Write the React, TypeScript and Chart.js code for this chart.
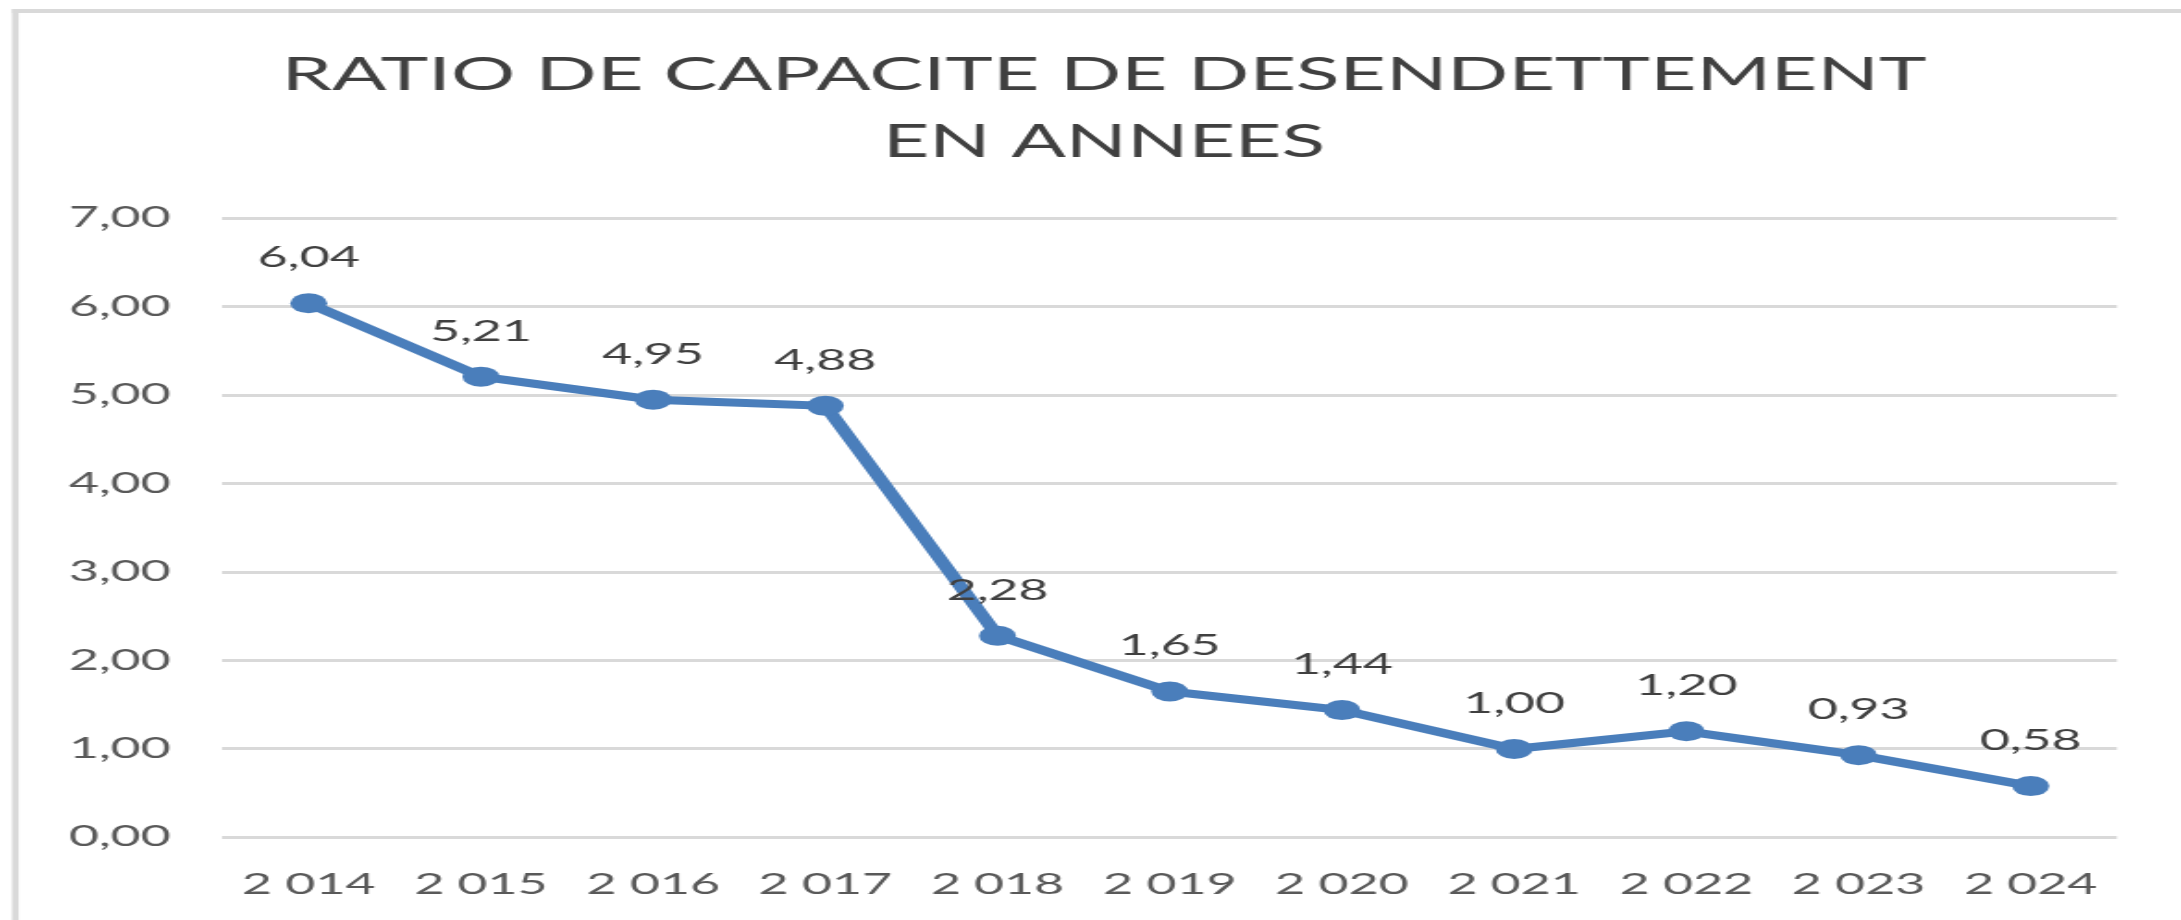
import React, { useEffect, useRef } from 'react';
import { Chart, registerables } from 'chart.js';

Chart.register(...registerables);

// ---- data ----
const years: number[] = [2014, 2015, 2016, 2017, 2018, 2019, 2020, 2021, 2022, 2023, 2024];
const ratios: number[] = [6.04, 5.21, 4.95, 4.88, 2.28, 1.65, 1.44, 1.0, 1.2, 0.93, 0.58];
const yMin = 0;
const yMax = 7;
const yStep = 1;
const titleLines: string[] = ['RATIO DE CAPACITE DE DESENDETTEMENT', 'EN ANNEES'];

// ---- layout constants ----
const FULL_W = 2181;
const FULL_H = 920;
const SX = 1.85; // horizontal stretch of the original picture
const W = Math.round(FULL_W / SX);
const H = FULL_H;
const FONT = 'Lato, "Open Sans", sans-serif';
const TITLE_SQUEEZE = 0.925;

const fmtNum = (v: number) => v.toFixed(2).replace('.', ',');
const fmtYear = (y: number) => {
  const s = String(y);
  return s.slice(0, 1) + ' ' + s.slice(1);
};

const framePlugin = {
  id: 'frameAndTitle',
  beforeDraw(chart: any) {
    const ctx = chart.ctx;
    ctx.save();
    ctx.fillStyle = '#ffffff';
    ctx.fillRect(0, 0, chart.width, chart.height);
    ctx.fillStyle = '#d9d9d9';
    ctx.fillRect(6.5, 9, 3.6, chart.height - 9);
    ctx.fillRect(6.5, 9, chart.width, 4);
    ctx.restore();

    ctx.save();
    const cx = 1104 / SX;
    ctx.translate(cx, 0);
    ctx.scale(TITLE_SQUEEZE, 1);
    ctx.fillStyle = '#404040';
    ctx.font = `47px ${FONT}`;
    ctx.textAlign = 'center';
    ctx.textBaseline = 'alphabetic';
    ctx.fillText(titleLines[0], 0, 90);
    ctx.fillText(titleLines[1], 0, 157);
    ctx.restore();
  },
};

const labelPlugin = {
  id: 'pointLabels',
  afterDatasetsDraw(chart: any) {
    const ctx = chart.ctx;
    const meta = chart.getDatasetMeta(0);
    const values = chart.data.datasets[0].data as number[];
    ctx.save();
    ctx.fillStyle = '#404040';
    ctx.font = `28px ${FONT}`;
    ctx.textAlign = 'center';
    ctx.textBaseline = 'alphabetic';
    meta.data.forEach((pt: any, i: number) => {
      ctx.fillText(fmtNum(values[i]), pt.x, pt.y - 36);
    });
    ctx.restore();
  },
};

export default function App() {
  const ref = useRef<HTMLCanvasElement | null>(null);

  useEffect(() => {
    document.documentElement.style.overflow = 'hidden';
    const canvas = ref.current;
    if (!canvas) return;
    const chart = new Chart(canvas, {
      type: 'line',
      data: {
        labels: years.map(fmtYear),
        datasets: [
          {
            data: ratios,
            borderColor: '#4a7ebb',
            backgroundColor: '#4a7ebb',
            borderWidth: 8,
            pointRadius: 10,
            pointBackgroundColor: '#4a7ebb',
            pointBorderWidth: 0,
            tension: 0,
            fill: false,
          },
        ],
      },
      options: {
        responsive: false,
        devicePixelRatio: 1,
        animation: false,
        layout: { padding: { top: 218.4, left: 0, right: W - 2117 / SX, bottom: 0 } },
        plugins: {
          legend: { display: false },
          title: { display: false },
          tooltip: { enabled: false },
        },
        scales: {
          x: {
            offset: true,
            grid: { display: false, drawTicks: false },
            border: { display: false },
            ticks: {
              color: '#595959',
              font: { family: FONT, size: 28 },
              padding: 31,
              maxRotation: 0,
              autoSkip: false,
            },
            afterFit: (s: any) => {
              s.height = H - 837.4;
            },
          },
          y: {
            min: yMin,
            max: yMax,
            grid: { color: '#d9d9d9', lineWidth: 3, drawTicks: false },
            border: { display: false },
            ticks: {
              stepSize: yStep,
              color: '#595959',
              font: { family: FONT, size: 28 },
              padding: 28,
              callback: (v: any) => fmtNum(Number(v)),
            },
            afterFit: (s: any) => {
              s.width = 222.6 / SX;
            },
          },
        },
      },
      plugins: [framePlugin, labelPlugin],
    });
    return () => chart.destroy();
  }, []);

  return (
    <div
      style={{
        position: 'absolute',
        left: 0,
        top: 0,
        width: W,
        height: H,
        transform: `scaleX(${FULL_W / W})`,
        transformOrigin: '0 0',
      }}
    >
      <canvas ref={ref} width={W} height={H} style={{ width: W, height: H, display: 'block' }} />
    </div>
  );
}
